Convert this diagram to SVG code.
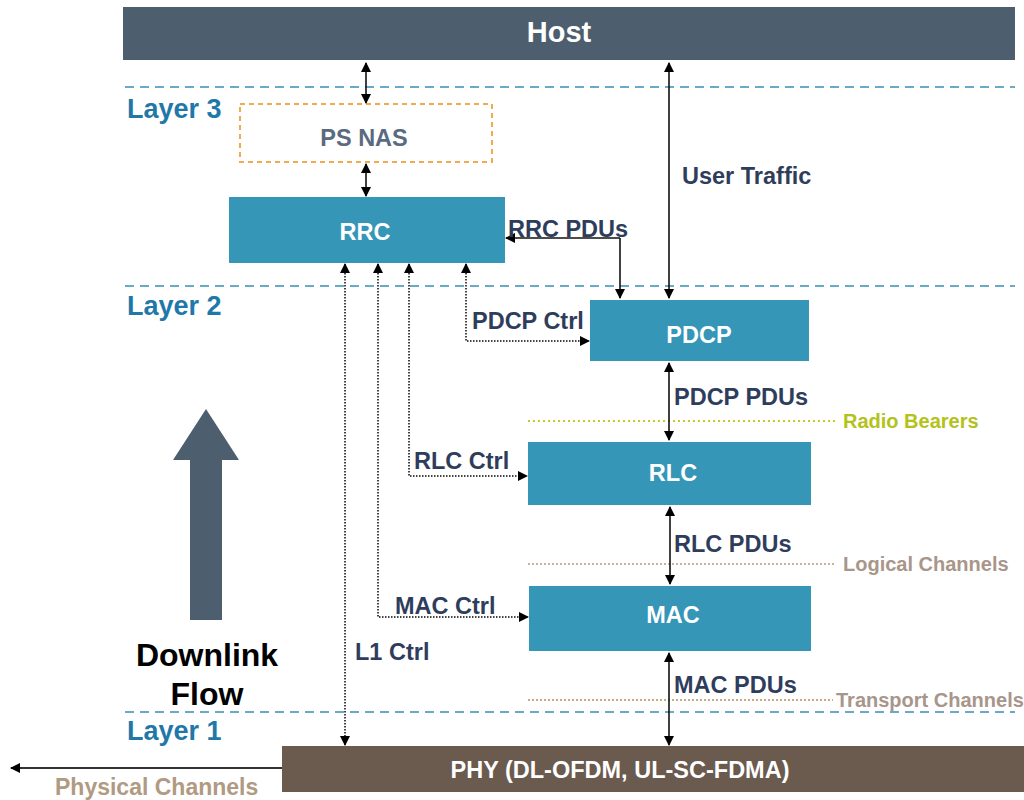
<svg xmlns="http://www.w3.org/2000/svg" width="1024" height="800" viewBox="0 0 1024 800">
<style>
.box{fill:#3596b8}
.bt{font-family:"Liberation Sans",Arial,sans-serif;font-weight:bold;font-size:23.5px;fill:#ffffff;text-anchor:middle;dominant-baseline:central}
.lbl{font-family:"Liberation Sans",Arial,sans-serif;font-weight:bold;font-size:23.5px;fill:#2f3d5c}
.layer{font-family:"Liberation Sans",Arial,sans-serif;font-weight:bold;font-size:27px;fill:#1f78a8}
.ch{font-family:"Liberation Sans",Arial,sans-serif;font-weight:bold;font-size:20px}
.sep{stroke:#3a8db5;stroke-width:1.6;stroke-dasharray:9,6;fill:none}
.solid{stroke:#111;stroke-width:1.6;fill:none}
.dot{stroke:#444;stroke-width:2;stroke-dasharray:1.5,1.5;fill:none}
</style>
<defs>
<marker id="ah" viewBox="0 0 10 10" refX="9" refY="5" markerWidth="10" markerHeight="10" markerUnits="userSpaceOnUse" orient="auto-start-reverse">
<path d="M0,0 L10,5 L0,10 z" fill="#000"/>
</marker>
</defs>

<g id="separators">
<line class="sep" x1="125" y1="87" x2="1015" y2="87"/>
<line class="sep" x1="125" y1="286" x2="1015" y2="286"/>
<line class="sep" x1="125" y1="712" x2="1015" y2="712"/>
<line x1="528" y1="421" x2="835" y2="421" stroke="#c8cc20" stroke-width="2" stroke-dasharray="2,3"/>
<line x1="528" y1="564" x2="835" y2="564" stroke="#c8b49e" stroke-width="2" stroke-dasharray="2,2"/>
<line x1="528" y1="700" x2="833" y2="700" stroke="#d0a888" stroke-width="2" stroke-dasharray="2,2"/>
<text class="layer" x="127" y="118">Layer 3</text>
<text class="layer" x="127" y="315">Layer 2</text>
<text class="layer" x="127" y="740">Layer 1</text>
<text class="ch" x="843" y="428" fill="#b4c21c">Radio Bearers</text>
<text class="ch" x="843" y="571" fill="#a8968a">Logical Channels</text>
<text class="ch" x="836" y="707" fill="#a8968a">Transport Channels</text>
</g>

<g id="host">
<rect x="123" y="7" width="892" height="53" fill="#4d5e6f"/>
<text class="bt" x="559" y="32" style="font-size:29px">Host</text>
</g>

<g id="psnas">
<rect x="240" y="104" width="252" height="58" fill="none" stroke="#f0aa50" stroke-width="2" stroke-dasharray="5,4"/>
<text class="bt" x="364" y="138" style="fill:#5a6a80">PS NAS</text>
</g>

<g id="rrc">
<rect class="box" x="229" y="197" width="276" height="66"/>
<text class="bt" x="365" y="232">RRC</text>
</g>

<g id="pdcp">
<rect class="box" x="590" y="300" width="219" height="61"/>
<text class="bt" x="699" y="335">PDCP</text>
</g>

<g id="rlc">
<rect class="box" x="528" y="442" width="283" height="63"/>
<text class="bt" x="673" y="473">RLC</text>
</g>

<g id="mac">
<rect class="box" x="529" y="586" width="282" height="65"/>
<text class="bt" x="673" y="615">MAC</text>
</g>

<g id="phy">
<rect x="282" y="746" width="742" height="46" fill="#6b5a4e"/>
<text class="bt" x="620" y="770">PHY (DL-OFDM, UL-SC-FDMA)</text>
</g>

<g id="downlink">
<polygon points="206,409 239,460 222,460 222,620 190,620 190,460 173,460" fill="#4d5e6f"/>
<text x="207" y="666" font-family="Liberation Sans, Arial, sans-serif" font-weight="bold" font-size="32" fill="#000" text-anchor="middle">Downlink</text>
<text x="207" y="705" font-family="Liberation Sans, Arial, sans-serif" font-weight="bold" font-size="32" fill="#000" text-anchor="middle">Flow</text>
</g>

<g id="connectors">
<line class="solid" x1="366" y1="63" x2="366" y2="103" marker-start="url(#ah)" marker-end="url(#ah)"/>
<line class="solid" x1="366" y1="164" x2="366" y2="196" marker-start="url(#ah)" marker-end="url(#ah)"/>
<polyline class="solid" points="620,238 506,238" marker-end="url(#ah)"/>
<polyline class="solid" points="620,238 620,298" marker-end="url(#ah)"/>
<line class="solid" x1="669" y1="63" x2="669" y2="298" marker-start="url(#ah)" marker-end="url(#ah)"/>
<line class="solid" x1="669" y1="363" x2="669" y2="440" marker-start="url(#ah)" marker-end="url(#ah)"/>
<line class="solid" x1="670" y1="507" x2="670" y2="584" marker-start="url(#ah)" marker-end="url(#ah)"/>
<line class="solid" x1="669" y1="653" x2="669" y2="745" marker-start="url(#ah)" marker-end="url(#ah)"/>
<polyline class="dot" points="466,264 466,341 589,341" marker-start="url(#ah)" marker-end="url(#ah)"/>
<polyline class="dot" points="409,264 409,476 527,476" marker-start="url(#ah)" marker-end="url(#ah)"/>
<polyline class="dot" points="378,264 378,617 528,617" marker-start="url(#ah)" marker-end="url(#ah)"/>
<line class="dot" x1="345" y1="264" x2="345" y2="745" marker-start="url(#ah)" marker-end="url(#ah)"/>
<line x1="282" y1="768" x2="11" y2="768" stroke="#333" stroke-width="2" marker-end="url(#ah)"/>
<text class="lbl" x="508" y="237">RRC PDUs</text>
<text class="lbl" x="682" y="184">User Traffic</text>
<text class="lbl" x="472" y="329">PDCP Ctrl</text>
<text class="lbl" x="414" y="469">RLC Ctrl</text>
<text class="lbl" x="395" y="614">MAC Ctrl</text>
<text class="lbl" x="355" y="660">L1 Ctrl</text>
<text class="lbl" x="674" y="405">PDCP PDUs</text>
<text class="lbl" x="674" y="552">RLC PDUs</text>
<text class="lbl" x="674" y="693">MAC PDUs</text>
<text class="ch" x="55" y="795" style="font-size:23px" fill="#b09a82">Physical Channels</text>
</g>
</svg>
